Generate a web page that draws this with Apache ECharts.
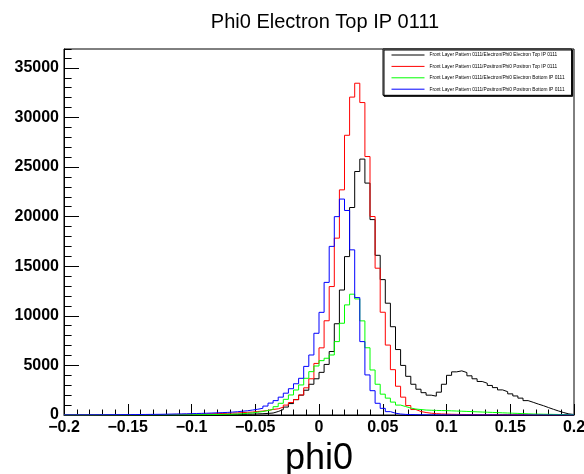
<!DOCTYPE html>
<html>
<head>
<meta charset="utf-8">
<script src="https://cdn.jsdelivr.net/npm/echarts@6/dist/echarts.min.js"></script>
<style>
  html, body { margin: 0; padding: 0; background: #ffffff; }
  #chart { width: 584px; height: 474px; }
</style>
</head>
<body>
<div id="chart"></div>
<script>
// Histogram binning: 100 bins of phi0 from -0.2 to 0.2
const histLow = -0.2;
const histBinWidth = 0.004;

// Bin contents, one entry per bin (left to right)
const electronTop = [
  0, 0, 0, 0, 0, 0, 0, 5, 5, 5,
  5, 5, 5, 10, 10, 10, 10, 10, 15, 15,
  15, 20, 20, 20, 25, 25, 30, 30, 35, 40,
  45, 50, 55, 60, 70, 80, 90, 110, 130, 160,
  200, 350, 550, 800, 1150, 1550, 2000, 2500, 3100, 3650,
  4300, 5100, 6400, 9200, 12600, 15970, 20920, 24550, 25800, 23380,
  19700, 16100, 13650, 11270, 8900, 6600, 5000, 3900, 3100, 2600,
  2250, 2000, 1900, 2300, 3100, 4000, 4350, 4450, 4280, 3950,
  3650, 3380, 3200, 2980, 2760, 2530, 2350, 2130, 1920, 1700,
  1450, 1280, 1100, 940, 750, 570, 400, 240, 110, 50
];
const positronTop = [
  10, 10, 10, 15, 15, 15, 20, 20, 20, 25,
  25, 30, 30, 30, 35, 35, 40, 40, 45, 50,
  55, 60, 65, 70, 80, 90, 100, 110, 120, 135,
  150, 170, 190, 210, 240, 270, 300, 350, 400, 460,
  560, 620, 790, 1000, 1260, 1550, 2020, 2740, 3650, 5200,
  6770, 9500, 12950, 17830, 22700, 28200, 32050, 33450, 31500, 26060,
  20010, 14800, 10360, 7050, 4570, 2900, 1800, 950, 550, 350,
  250, 180, 140, 110, 90, 75, 65, 55, 50, 45,
  40, 35, 30, 30, 25, 25, 20, 20, 15, 15,
  15, 10, 10, 10, 10, 5, 5, 5, 5, 5
];
const electronBottom = [
  0, 0, 0, 0, 0, 0, 5, 5, 5, 5,
  5, 5, 5, 10, 10, 10, 10, 15, 15, 15,
  20, 20, 25, 25, 30, 30, 35, 40, 45, 50,
  60, 70, 80, 100, 130, 170, 220, 280, 350, 450,
  570, 840, 1180, 1580, 2020, 2520, 3030, 3700, 4370, 4940,
  5480, 5720, 6050, 7400, 9250, 11100, 12180, 11700, 9490, 6780,
  4540, 3100, 2100, 1700, 1300, 1000, 850, 700, 600, 550,
  500, 480, 460, 450, 440, 420, 400, 380, 360, 340,
  320, 300, 280, 260, 240, 220, 200, 180, 160, 140,
  120, 100, 90, 80, 70, 60, 50, 40, 30, 20
];
const positronBottom = [
  10, 10, 15, 15, 20, 20, 25, 25, 30, 30,
  35, 40, 40, 45, 50, 55, 60, 65, 70, 80,
  90, 100, 110, 120, 135, 150, 165, 180, 200, 220,
  240, 260, 290, 330, 380, 430, 500, 580, 680, 900,
  1200, 1450, 1800, 2200, 2650, 3150, 3700, 4900, 6050, 8240,
  10350, 13370, 17000, 20000, 21770, 20620, 16650, 11840, 7400, 4040,
  2450, 1180, 670, 340, 180, 100, 60, 40, 30, 20,
  15, 10, 10, 10, 5, 5, 5, 5, 5, 5,
  5, 5, 5, 5, 0, 0, 0, 0, 0, 0,
  0, 0, 0, 0, 0, 0, 0, 0, 0, 0
];

const seriesNames = [
  'Front Layer Pattern 0111/Electron/Phi0 Electron Top IP 0111',
  'Front Layer Pattern 0111/Positron/Phi0 Positron Top IP 0111',
  'Front Layer Pattern 0111/Electron/Phi0 Electron Bottom IP 0111',
  'Front Layer Pattern 0111/Positron/Phi0 Positron Bottom IP 0111'
];
const seriesCounts = [electronTop, positronTop, electronBottom, positronBottom];
const seriesColors = ['#000000', '#ff0000', '#00ff00', '#0000ff'];

const chartTitle = 'Phi0 Electron Top IP 0111';
const xTitle = 'phi0';

// Turn bin contents into left-edge points for a step outline
function stepPoints(counts) {
  const pts = counts.map((c, i) => [+(histLow + i * histBinWidth).toFixed(4), c]);
  pts.push([+(histLow + counts.length * histBinWidth).toFixed(4), counts[counts.length - 1]]);
  return pts;
}

const fontFamily = '"Liberation Sans", Arial, Helvetica, sans-serif';
const yTop = 36900;

const chart = echarts.init(document.getElementById('chart'), null, { renderer: 'canvas' });
chart.setOption({
  animation: false,
  backgroundColor: '#ffffff',
  textStyle: { fontFamily: fontFamily, color: '#000' },
  title: {
    text: chartTitle,
    left: 320,
    top: 7,
    textAlign: 'center',
    textStyle: { fontFamily: fontFamily, fontSize: 20, fontWeight: 'normal', color: '#000' }
  },
  legend: {
    orient: 'vertical',
    left: 383,
    top: 49,
    padding: [3.2, 7, 3.3, 8],
    itemWidth: 33,
    itemHeight: 7,
    itemGap: 5.8,
    backgroundColor: '#ffffff',
    borderColor: '#000',
    borderWidth: 1,
    shadowColor: '#000',
    shadowBlur: 0,
    shadowOffsetX: 1,
    shadowOffsetY: 1,
    itemStyle: { opacity: 0 },
    lineStyle: { width: 1 },
    textStyle: { fontFamily: fontFamily, fontSize: 4.8, color: '#000' },
    data: seriesNames
  },
  grid: {
    left: 64, right: 10, top: 49, bottom: 59,
    show: true, borderColor: '#000', borderWidth: 1,
    backgroundColor: 'transparent',
    containLabel: false,
    outerBoundsMode: 'none'
  },
  xAxis: {
    type: 'value',
    min: -0.2, max: 0.2, interval: 0.05,
    axisLine: { show: true, onZero: false, lineStyle: { color: '#000', width: 1 } },
    axisTick: { show: true, inside: true, length: 11, lineStyle: { color: '#000', width: 1 } },
    minorTick: { show: true, splitNumber: 5, length: 5.5, lineStyle: { color: '#000', width: 1 } },
    splitLine: { show: false },
    minorSplitLine: { show: false },
    axisLabel: {
      margin: 5,
      fontFamily: fontFamily, fontSize: 16, fontWeight: 'bold', color: '#000',
      formatter: v => String(Math.round(v * 100) / 100).replace('-', '\u2212')
    },
    name: xTitle,
    nameLocation: 'middle',
    nameGap: 20,
    nameTextStyle: { fontFamily: fontFamily, fontSize: 36, color: '#000' }
  },
  yAxis: [
    {
      type: 'value',
      min: 0, max: yTop, interval: 5000,
      axisLine: { show: true, onZero: false, lineStyle: { color: '#000', width: 1 } },
      axisTick: { show: true, inside: true, length: 15, lineStyle: { color: '#000', width: 1 } },
      splitLine: { show: false },
      axisLabel: {
        margin: 5, showMaxLabel: false,
        fontFamily: fontFamily, fontSize: 16, fontWeight: 'bold', color: '#000',
        formatter: v => String(v)
      }
    },
    {
      type: 'value',
      min: 0, max: yTop, interval: 1000,
      position: 'left',
      axisLine: { show: false, onZero: false },
      axisTick: { show: true, inside: true, length: 7.6, lineStyle: { color: '#000', width: 1 } },
      splitLine: { show: false },
      axisLabel: { show: false }
    }
  ],
  series: seriesCounts.map((counts, i) => ({
    name: seriesNames[i],
    type: 'line',
    step: 'end',
    yAxisIndex: 0,
    symbol: 'none',
    showSymbol: false,
    color: seriesColors[i],
    lineStyle: { color: seriesColors[i], width: 1 },
    itemStyle: { color: seriesColors[i] },
    data: stepPoints(counts)
  }))
});
</script>
</body>
</html>
